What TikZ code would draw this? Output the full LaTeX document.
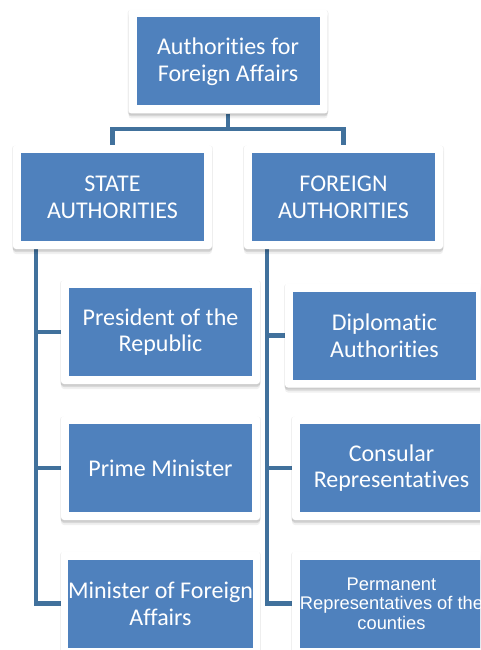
\documentclass[tikz,border=0pt]{standalone}
\usepackage{fontspec}
\setmainfont{Carlito}[RawFeature={-liga;-clig;-dlig}]
\newfontfamily\arialfont{Liberation Sans}
\usetikzlibrary{shadows,backgrounds,calc}
\definecolor{boxblue}{HTML}{4F81BD}
\definecolor{connblue}{HTML}{41719C}
\tikzset{
  frame/.style={draw=none, fill=white, rounded corners=3pt, inner sep=0pt,
    minimum width=199pt, minimum height=104pt,
    drop shadow={shadow xshift=0pt, shadow yshift=-1pt, shadow scale=1.01, opacity=0.06, fill=black},
    drop shadow={shadow xshift=0pt, shadow yshift=-3pt, opacity=0.10, fill=black},
    drop shadow={shadow xshift=0pt, shadow yshift=-5pt, opacity=0.06, fill=black}},
  bluebox/.style={draw=none, fill=boxblue, text=white, inner sep=0pt, align=center,
    minimum width=183pt, minimum height=88pt,
    font=\fontsize{24}{26.7}\selectfont},
  conn/.style={draw=connblue, line width=4.5pt}
}
\begin{document}
\begin{tikzpicture}[x=1pt,y=-1pt]
\useasboundingbox (0,0) rectangle (480,650);
\clip (0,0) rectangle (480,650);
% frames
\node[frame] (fT) at (228,61.5) {};
\node[frame] (fS) at (112.5,197) {};
\node[frame] (fF) at (343.5,197) {};
\node[frame] (fP) at (160.5,332) {};
\node[frame] (fPM) at (160.5,468) {};
\node[frame] (fM) at (160.5,603.5) {};
\node[frame] (fD) at (384.5,335.5) {};
\node[frame] (fC) at (391.5,468) {};
\node[frame] (fR) at (391.5,603.5) {};
% inner boxes
\node[bluebox] (T) at (fT) {Authorities for\\Foreign Affairs};
\node[bluebox] (S) at (fS) {STATE\\AUTHORITIES};
\node[bluebox] (F) at (fF) {FOREIGN\\AUTHORITIES};
\node[bluebox] (P) at (fP) {President of the\\Republic};
\node[bluebox] (PM) at (fPM) {Prime Minister};
\node[bluebox] (M) at (fM) {Minister of Foreign\\Affairs};
\node[bluebox] (D) at (fD) {Diplomatic\\Authorities};
\node[bluebox] (C) at (fC) {Consular\\Representatives};
\node[bluebox, font=\arialfont\fontsize{18.3}{19.5}\selectfont] (R) at (fR) {Permanent\\Representatives of the\\counties};
% connectors
\begin{scope}[on background layer]
\draw[conn] (fT.south) -- ++(0,15.5) -| (fS.north);
\draw[conn] (fT.south) -- ++(0,15.5) -| (fF.north);
\coordinate (sv) at ([xshift=23pt]fS.south west);
\coordinate (fv) at ([xshift=23pt]fF.south west);
\draw[conn] (sv) |- (fM.west);
\draw[conn] (fP.west -| sv) -- (fP.west);
\draw[conn] (fPM.west -| sv) -- (fPM.west);
\draw[conn] (fv) |- (fR.west);
\draw[conn] (fD.west -| fv) -- (fD.west);
\draw[conn] (fC.west -| fv) -- (fC.west);
\end{scope}
\end{tikzpicture}
\end{document}
